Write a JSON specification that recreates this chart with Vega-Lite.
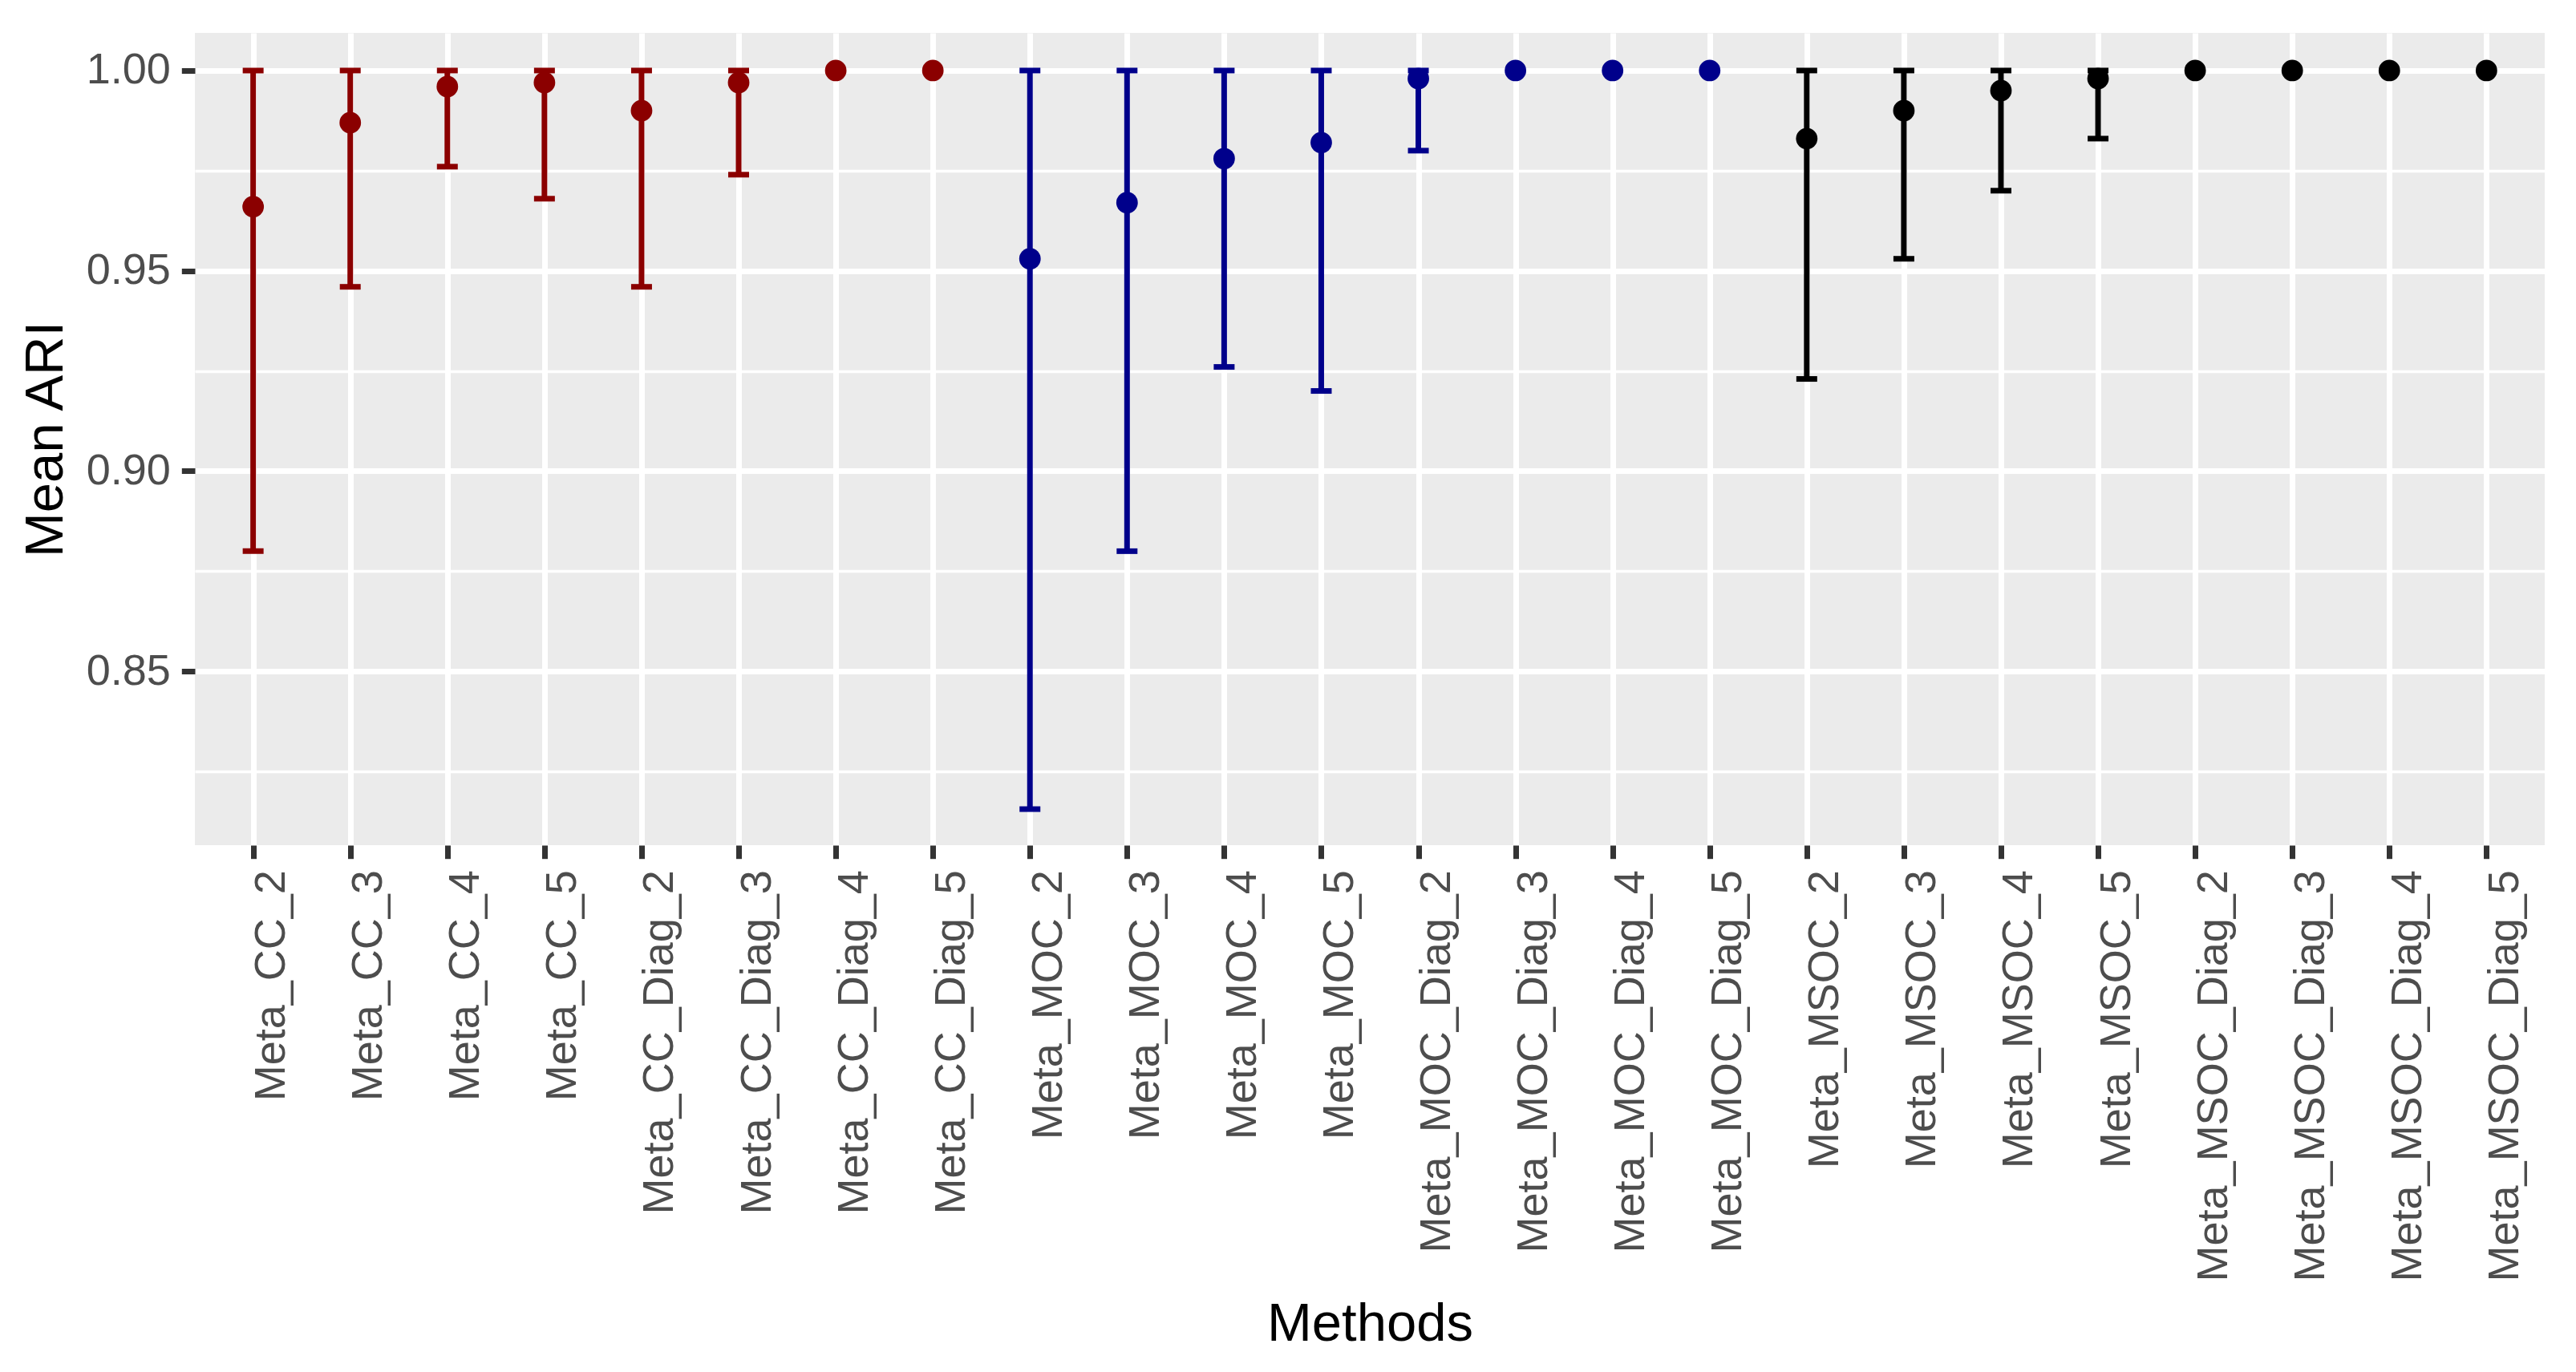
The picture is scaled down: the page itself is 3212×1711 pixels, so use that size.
{
  "$schema": "https://vega.github.io/schema/vega-lite/v6.json",
  "autosize": {"type": "none"},
  "padding": {"left": 243, "top": 41, "right": 39, "bottom": 657},
  "width": 2930,
  "height": 1013,
  "background": "white",
  "config": {
    "font": "Liberation Sans",
    "view": {"fill": "#EBEBEB", "stroke": null}
  },
  "data": {
    "values": [
      {"Method": "Meta_CC_2", "Group": "CC", "ARI": 0.966, "lower": 0.880, "upper": 1.0},
      {"Method": "Meta_CC_3", "Group": "CC", "ARI": 0.987, "lower": 0.946, "upper": 1.0},
      {"Method": "Meta_CC_4", "Group": "CC", "ARI": 0.996, "lower": 0.976, "upper": 1.0},
      {"Method": "Meta_CC_5", "Group": "CC", "ARI": 0.997, "lower": 0.968, "upper": 1.0},
      {"Method": "Meta_CC_Diag_2", "Group": "CC", "ARI": 0.990, "lower": 0.946, "upper": 1.0},
      {"Method": "Meta_CC_Diag_3", "Group": "CC", "ARI": 0.997, "lower": 0.974, "upper": 1.0},
      {"Method": "Meta_CC_Diag_4", "Group": "CC", "ARI": 1.0, "lower": null, "upper": null},
      {"Method": "Meta_CC_Diag_5", "Group": "CC", "ARI": 1.0, "lower": null, "upper": null},
      {"Method": "Meta_MOC_2", "Group": "MOC", "ARI": 0.953, "lower": 0.8156, "upper": 1.0},
      {"Method": "Meta_MOC_3", "Group": "MOC", "ARI": 0.967, "lower": 0.880, "upper": 1.0},
      {"Method": "Meta_MOC_4", "Group": "MOC", "ARI": 0.978, "lower": 0.926, "upper": 1.0},
      {"Method": "Meta_MOC_5", "Group": "MOC", "ARI": 0.982, "lower": 0.920, "upper": 1.0},
      {"Method": "Meta_MOC_Diag_2", "Group": "MOC", "ARI": 0.998, "lower": 0.980, "upper": 1.0},
      {"Method": "Meta_MOC_Diag_3", "Group": "MOC", "ARI": 1.0, "lower": null, "upper": null},
      {"Method": "Meta_MOC_Diag_4", "Group": "MOC", "ARI": 1.0, "lower": null, "upper": null},
      {"Method": "Meta_MOC_Diag_5", "Group": "MOC", "ARI": 1.0, "lower": null, "upper": null},
      {"Method": "Meta_MSOC_2", "Group": "MSOC", "ARI": 0.983, "lower": 0.923, "upper": 1.0},
      {"Method": "Meta_MSOC_3", "Group": "MSOC", "ARI": 0.990, "lower": 0.953, "upper": 1.0},
      {"Method": "Meta_MSOC_4", "Group": "MSOC", "ARI": 0.995, "lower": 0.970, "upper": 1.0},
      {"Method": "Meta_MSOC_5", "Group": "MSOC", "ARI": 0.998, "lower": 0.983, "upper": 1.0},
      {"Method": "Meta_MSOC_Diag_2", "Group": "MSOC", "ARI": 1.0, "lower": null, "upper": null},
      {"Method": "Meta_MSOC_Diag_3", "Group": "MSOC", "ARI": 1.0, "lower": null, "upper": null},
      {"Method": "Meta_MSOC_Diag_4", "Group": "MSOC", "ARI": 1.0, "lower": null, "upper": null},
      {"Method": "Meta_MSOC_Diag_5", "Group": "MSOC", "ARI": 1.0, "lower": null, "upper": null}
    ]
  },
  "encoding": {
    "x": {
      "field": "Method",
      "type": "nominal",
      "sort": ["Meta_CC_2", "Meta_CC_3", "Meta_CC_4", "Meta_CC_5", "Meta_CC_Diag_2", "Meta_CC_Diag_3", "Meta_CC_Diag_4", "Meta_CC_Diag_5", "Meta_MOC_2", "Meta_MOC_3", "Meta_MOC_4", "Meta_MOC_5", "Meta_MOC_Diag_2", "Meta_MOC_Diag_3", "Meta_MOC_Diag_4", "Meta_MOC_Diag_5", "Meta_MSOC_2", "Meta_MSOC_3", "Meta_MSOC_4", "Meta_MSOC_5", "Meta_MSOC_Diag_2", "Meta_MSOC_Diag_3", "Meta_MSOC_Diag_4", "Meta_MSOC_Diag_5"],
      "title": "Methods",
      "scale": {"type": "point", "padding": 0.6},
      "axis": {
        "domain": false,
        "grid": true,
        "gridColor": "white",
        "gridWidth": 7,
        "tickColor": "#333333",
        "tickWidth": 7,
        "tickSize": 16.7,
        "labelAngle": -90,
        "labelAlign": "right",
        "labelBaseline": "top",
        "labelOffset": -4,
        "labelFont": "Liberation Sans",
        "labelFontSize": 54,
        "labelColor": "#4D4D4D",
        "labelPadding": 14,
        "labelLimit": 2000,
        "labelOverlap": false,
        "labelFlush": false,
        "titleFont": "Liberation Sans",
        "titleFontSize": 67,
        "titleFontWeight": "normal",
        "titleColor": "black",
        "titleBaseline": "top",
        "titleY": 564
      }
    },
    "color": {
      "field": "Group",
      "type": "nominal",
      "scale": {"domain": ["CC", "MOC", "MSOC"], "range": ["#8B0000", "#00008B", "#000000"]},
      "legend": null
    }
  },
  "layer": [
    {
      "transform": [{"filter": "isValid(datum.lower)"}],
      "mark": {"type": "rule", "strokeWidth": 7},
      "encoding": {
        "y": {
          "field": "lower",
          "type": "quantitative",
          "title": "Mean ARI",
          "scale": {"domain": [0.8066, 1.0094], "nice": false, "zero": false},
          "axis": {
            "values": [0.825, 0.85, 0.875, 0.9, 0.925, 0.95, 0.975, 1.0],
            "labelExpr": "round(datum.value*1000) % 50 == 0 ? format(datum.value, '.2f') : ''",
            "domain": false,
            "grid": true,
            "gridColor": "white",
            "gridWidth": {"condition": {"test": "round(datum.value*1000) % 50 != 0", "value": 3.5}, "value": 7},
            "tickColor": "#333333",
            "tickWidth": 7,
            "tickSize": 16.7,
            "tickOpacity": {"condition": {"test": "round(datum.value*1000) % 50 != 0", "value": 0}, "value": 1},
            "labelFont": "Liberation Sans",
            "labelFontSize": 54,
            "labelColor": "#4D4D4D",
            "labelPadding": 14,
            "titleFont": "Liberation Sans",
            "titleFontSize": 67,
            "titleFontWeight": "normal",
            "titleColor": "black",
            "titlePadding": 16
          }
        },
        "y2": {"field": "upper"}
      }
    },
    {
      "transform": [{"filter": "isValid(datum.lower)"}],
      "mark": {"type": "tick", "thickness": 7, "size": 26, "opacity": 1},
      "encoding": {"y": {"field": "lower", "type": "quantitative", "title": "Mean ARI"}}
    },
    {
      "transform": [{"filter": "isValid(datum.upper)"}],
      "mark": {"type": "tick", "thickness": 7, "size": 26, "opacity": 1},
      "encoding": {"y": {"field": "upper", "type": "quantitative", "title": "Mean ARI"}}
    },
    {
      "mark": {"type": "point", "filled": true, "size": 720, "opacity": 1},
      "encoding": {"y": {"field": "ARI", "type": "quantitative", "title": "Mean ARI"}}
    }
  ]
}
